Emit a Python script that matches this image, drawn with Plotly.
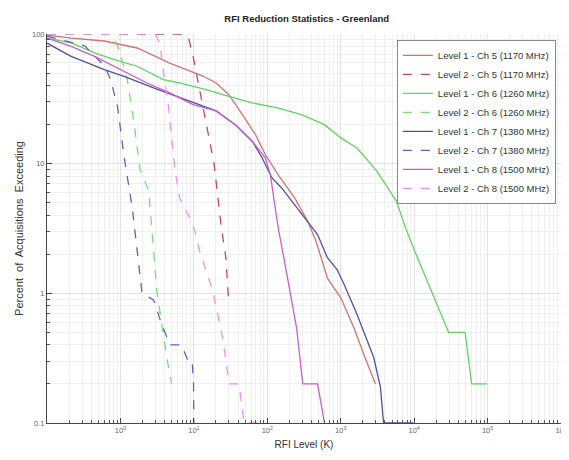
import plotly.graph_objects as go

# ---- data (RFI level in K, percent of acquisitions exceeding) ----
l1_ch5_x = [0.1, 0.213, 0.604, 1.69, 4.69, 7.93, 13.3, 20.1, 30, 45.8, 69.3, 94.4, 141, 238, 355, 464, 659, 1006, 1517, 2066, 2970]
l1_ch5_y = [98, 93.1, 88.3, 78, 59.7, 53.1, 47.4, 41.9, 34, 23.9, 16.7, 11.7, 8.2, 5.4, 3.6, 2.5, 1.31, 0.92, 0.54, 0.337, 0.2]

l2_ch5_x = [0.1, 7.16, 8.36, 9.76, 10.8, 13.3, 16.1, 18.8, 23.4, 27.3, 30]
l2_ch5_y = [100, 100, 96, 67.3, 50, 27.7, 15.3, 10.1, 3.39, 1.88, 0.81]

l1_ch6_x = [0.1, 0.213, 0.444, 0.822, 1.69, 3.86, 6.38, 14.7, 30, 62.4, 142.6, 292, 601, 1006, 1665, 3090, 5728, 7800, 10640, 17990, 29500, 49400, 60700, 98400]
l1_ch6_y = [93.1, 85.3, 71.5, 63.4, 56.4, 44.5, 41.9, 37.2, 33.1, 29.4, 26.8, 23.9, 20, 15.8, 13.2, 8.8, 5.15, 3.1, 1.99, 0.977, 0.5, 0.5, 0.2, 0.2]

l2_ch6_x = [0.1, 0.67, 0.78, 0.96, 1.24, 1.53, 1.85, 2.43, 2.83, 3.14, 3.66, 4.28, 4.99]
l2_ch6_y = [100, 100, 98, 75.7, 44.5, 20.6, 9.0, 6.17, 2.12, 1.04, 0.574, 0.318, 0.2]

l1_ch7_x = [0.1, 0.213, 0.604, 1.12, 2.83, 7.93, 20.1, 37.1, 62.4, 84.9, 116, 157, 324, 484, 659, 898, 1114, 1665, 2818, 3467, 3837, 9700]
l1_ch7_y = [85, 67.3, 53.1, 47.2, 38.4, 31.1, 25.5, 19.9, 14.9, 11.1, 7.76, 6.5, 3.81, 2.84, 1.88, 1.52, 1.17, 0.69, 0.32, 0.19, 0.1, 0.1]

l2_ch7_x = [0.1, 0.329, 0.61, 0.734, 0.912, 1.12, 1.45, 1.69, 1.97, 2.83, 3.66, 4.73, 6.79, 8.36, 9.5, 9.9, 10.0]
l2_ch7_y = [96.5, 80.8, 56.6, 44.5, 27.7, 11.4, 4.55, 2.12, 1.0, 0.89, 0.574, 0.4, 0.4, 0.3, 0.3, 0.2, 0.1]

l1_ch8_x = [0.1, 0.213, 0.444, 1.0, 2.30, 4.69, 9.76, 20.1, 37.1, 62.4, 94, 110, 120, 141, 192, 251, 304, 484, 601]
l1_ch8_y = [93.1, 80.4, 67.3, 53.1, 41.9, 35.1, 28.5, 25.5, 19.9, 14.9, 11.1, 8.2, 5.8, 3.19, 1.25, 0.54, 0.2, 0.2, 0.1]

l2_ch8_x = [0.1, 2.95, 3.44, 3.86, 4.51, 4.99, 5.52, 6.38, 9.25, 10.3, 12.0, 18.1, 24.7, 30.3, 41.2, 48.1, 94]
l2_ch8_y = [100, 100, 85.3, 50, 27.7, 15.3, 9.0, 5.45, 3.62, 3.03, 2.12, 1.04, 0.45, 0.2, 0.2, 0.1, 0.1]

series_names = [
    "Level 1 - Ch 5 (1170 MHz)", "Level 2 - Ch 5 (1170 MHz)",
    "Level 1 - Ch 6 (1260 MHz)", "Level 2 - Ch 6 (1260 MHz)",
    "Level 1 - Ch 7 (1380 MHz)", "Level 2 - Ch 7 (1380 MHz)",
    "Level 1 - Ch 8 (1500 MHz)", "Level 2 - Ch 8 (1500 MHz)",
]
series_x = [l1_ch5_x, l2_ch5_x, l1_ch6_x, l2_ch6_x, l1_ch7_x, l2_ch7_x, l1_ch8_x, l2_ch8_x]
series_y = [l1_ch5_y, l2_ch5_y, l1_ch6_y, l2_ch6_y, l1_ch7_y, l2_ch7_y, l1_ch8_y, l2_ch8_y]

x_tick_vals = [1, 10, 100, 1000, 10000, 100000, 1000000]
x_tick_text = ["10<sup>0</sup>", "10<sup>1</sup>", "10<sup>2</sup>", "10<sup>3</sup>",
               "10<sup>4</sup>", "10<sup>5</sup>", "10<sup>6</sup>"]
y_tick_vals = [0.1, 1, 10, 100]
y_tick_text = ["0.1", "1", "10", "100"]

# ---- styles ----
colors = ["#d97070", "#c8475f", "#5fd45f", "#7fd87f", "#5050a8", "#6060c0", "#c85fc8", "#ee90ee"]
dashes = ["solid", "dash"] * 4

fig = go.Figure()
for name, xs, ys, c, d in zip(series_names, series_x, series_y, colors, dashes):
    fig.add_trace(go.Scatter(x=xs, y=ys, mode="lines", name=name,
                             line=dict(color=c, width=1.3, dash=d)))

minor_x = [m * 10 ** e for e in range(-1, 6) for m in range(2, 10)]
minor_y = [m * 10 ** e for e in range(-1, 2) for m in range(2, 10)]

font_fam = "Liberation Sans, Arial"

fig.update_layout(
    width=569, height=460,
    margin=dict(l=38, r=10, t=26, b=45),
    paper_bgcolor="white", plot_bgcolor="white",
    title=dict(text="<b>RFI Reduction Statistics - Greenland</b>", x=0.525, xanchor="center",
               y=0.985, yanchor="top", font=dict(family=font_fam, size=9.5, color="#222")),
    font=dict(family=font_fam, color="#444"),
    showlegend=True,
    legend=dict(x=0.99, y=0.985, xanchor="right", yanchor="top",
                bgcolor="white", bordercolor="#888", borderwidth=1,
                font=dict(family=font_fam, size=9.5, color="#333"),
                tracegroupgap=0, itemwidth=30),
    xaxis=dict(type="log", range=[-1, 6], tickvals=x_tick_vals, ticktext=x_tick_text,
               tickfont=dict(size=7.5, color="#666"), showgrid=True, gridcolor="#e2e2e2",
               gridwidth=1, zeroline=False, showline=True, linecolor="#444", linewidth=1,
               ticks="inside", ticklen=5, tickcolor="#444",
               minor=dict(tickvals=minor_x, showgrid=True, gridcolor="#efefef",
                          ticks="inside", ticklen=3, tickcolor="#555"),
               title=dict(text="RFI Level (K)", font=dict(size=10, color="#333"), standoff=6)),
    yaxis=dict(type="log", range=[-1, 2], tickvals=y_tick_vals, ticktext=y_tick_text,
               tickfont=dict(size=7.5, color="#666"), showgrid=True, gridcolor="#e2e2e2",
               gridwidth=1, zeroline=False, showline=True, linecolor="#444", linewidth=1,
               ticks="inside", ticklen=5, tickcolor="#444",
               minor=dict(tickvals=minor_y, showgrid=True, gridcolor="#efefef",
                          ticks="inside", ticklen=3, tickcolor="#555"),
               title=dict(text="Percent  of  Acquisitions  Exceeding", font=dict(size=11, color="#333"),
                          standoff=6)),
)

fig.write_html("out.html")
